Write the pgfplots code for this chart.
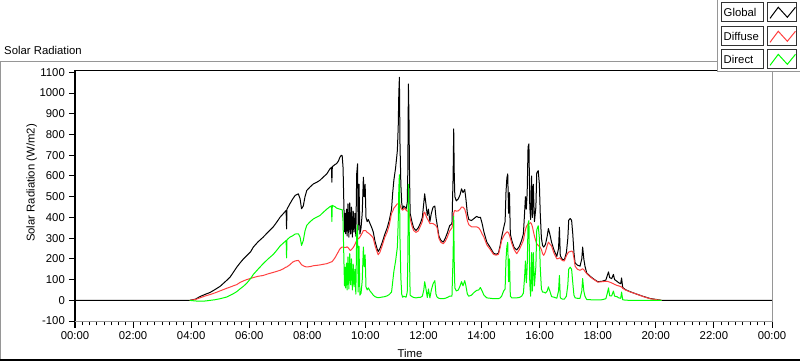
\documentclass[border=0pt]{standalone}
\usepackage{pgfplots}
\pgfplotsset{compat=1.18}
\usepackage{pgfplotstable}
\usepackage{fontspec}
\setmainfont{Liberation Sans}
\definecolor{lvred}{RGB}{255,64,64}
\definecolor{lvgreen}{RGB}{0,255,0}
\definecolor{frgray}{RGB}{150,150,150}

\pgfplotstableread{
t G D R
0.00 0 nan nan
3.95 0 0 0
4.15 6 4 -3
4.30 18 12 -4
4.50 30 22 -3
4.65 38 28 0
4.82 52 36 3
5.00 68 46 8
5.22 96 58 16
5.34 112 64 24
5.45 135 70 32
5.57 160 76 42
5.68 180 86 55
5.80 200 94 68
5.91 215 100 82
6.05 235 106 106
6.14 257 110 125
6.30 282 116 150
6.48 305 120 177
6.65 330 128 200
6.83 355 135 222
6.95 378 140 242
7.06 401 145 262
7.17 418 152 276
7.27 434 161 289
7.285 345 160 205
7.30 440 162 292
7.40 466 172 305
7.50 490 185 312
7.58 506 190 320
7.69 514 193 321
7.75 490 182 305
7.80 442 172 265
7.86 455 167 288
7.92 500 163 335
7.98 530 161 362
8.10 548 163 380
8.21 562 167 393
8.33 570 169 402
8.44 580 171 410
8.55 595 174 425
8.67 610 177 440
8.78 635 183 452
8.83 642 186 456
8.845 570 186 380
8.86 645 188 458
8.95 655 205 452
9.01 660 220 445
9.07 672 235 442
9.12 690 248 440
9.17 700 255 438
9.20 698 257 438
9.23 640 257 380
9.26 450 256 190
9.28 330 255 70
9.30 420 255 160
9.32 321 255 60
9.35 440 257 180
9.37 310 258 50
9.40 466 255 210
9.43 305 250 55
9.46 470 243 225
9.49 320 241 75
9.52 450 245 200
9.55 305 250 50
9.58 430 255 175
9.61 330 262 65
9.64 420 270 150
9.67 310 280 30
9.70 611 290 321
9.73 659 295 364
9.75 340 297 40
9.78 560 300 260
9.81 320 305 25
9.85 350 315 35
9.89 420 325 95
9.93 594 337 257
9.96 500 337 163
9.99 560 337 220
10.02 400 335 65
10.06 380 328 50
10.10 390 325 60
10.16 370 318 45
10.22 350 310 35
10.27 330 300 25
10.33 285 265 18
10.40 250 235 14
10.44 235 220 13
10.50 250 232 14
10.58 280 265 16
10.67 320 305 18
10.75 350 330 22
10.82 385 362 28
10.90 440 420 40
10.94 520 430 90
10.98 580 445 140
11.04 640 455 190
11.10 723 466 257
11.13 840 466 380
11.15 1000 466 540
11.17 1076 470 606
11.19 760 460 300
11.22 560 448 110
11.25 470 440 30
11.28 440 435 15
11.32 455 440 20
11.36 450 445 18
11.40 440 435 15
11.44 470 430 40
11.46 620 430 200
11.48 1044 430 560
11.50 880 425 450
11.52 600 410 190
11.54 420 395 25
11.60 380 360 18
11.66 350 337 14
11.74 337 328 12
11.82 350 335 14
11.90 375 360 15
11.96 400 380 20
12.01 470 420 50
12.04 514 426 90
12.08 470 410 60
12.13 410 394 14
12.17 440 385 55
12.22 380 370 12
12.27 420 372 50
12.33 450 370 80
12.39 455 365 95
12.43 400 360 30
12.47 365 350 15
12.53 310 300 10
12.60 289 280 8
12.68 281 273 8
12.75 300 285 10
12.82 325 305 14
12.90 360 335 20
12.98 370 350 20
13.02 600 380 220
13.04 827 420 405
13.06 600 430 170
13.08 500 434 60
13.13 480 430 45
13.20 490 432 50
13.26 510 440 70
13.31 538 450 90
13.36 520 450 70
13.42 535 440 95
13.46 490 420 70
13.51 420 385 30
13.56 390 365 20
13.65 385 355 25
13.74 395 355 38
13.83 405 355 48
13.90 400 350 50
13.96 401 338 62
14.02 370 320 45
14.08 330 305 25
14.18 281 268 12
14.30 255 245 10
14.41 228 222 8
14.50 222 218 8
14.58 228 222 8
14.64 265 255 12
14.69 305 289 20
14.76 350 310 45
14.81 380 321 55
14.84 520 325 195
14.87 590 330 260
14.90 610 330 280
14.93 420 325 90
14.96 520 315 200
14.99 320 300 20
15.04 289 275 12
15.12 255 245 12
15.21 243 225 12
15.30 260 245 14
15.38 290 270 20
15.44 321 289 35
15.48 420 320 110
15.51 500 340 190
15.54 440 355 85
15.57 520 362 160
15.60 740 369 370
15.63 755 369 385
15.66 450 372 80
15.69 390 375 20
15.72 600 368 230
15.75 400 355 45
15.78 560 335 230
15.82 380 310 70
15.87 450 285 165
15.90 615 273 340
15.95 626 265 360
15.99 560 260 300
16.02 420 257 160
16.06 300 245 55
16.10 265 225 40
16.14 257 217 40
16.20 270 235 35
16.26 310 265 45
16.30 346 281 65
16.35 320 272 45
16.41 280 262 18
16.50 240 225 15
16.59 212 200 10
16.65 250 202 45
16.68 353 205 120
16.71 215 203 12
16.78 198 192 6
16.85 195 190 6
16.92 230 215 20
16.97 300 228 75
17.00 386 233 150
17.05 395 235 160
17.10 386 238 150
17.14 320 235 85
17.18 230 205 25
17.22 180 165 12
17.30 170 150 10
17.39 165 145 10
17.45 200 150 45
17.48 257 152 105
17.52 200 148 45
17.56 165 140 20
17.62 132 129 4
17.75 115 112 3
17.85 104 102 2
18.00 90 88 2
18.15 92 90 3
18.28 98 92 8
18.34 125 92 40
18.37 137 90 60
18.41 110 88 22
18.48 105 84 22
18.54 125 80 45
18.58 100 77 20
18.66 92 72 18
18.72 85 70 12
18.79 80 66 10
18.82 108 65 40
18.86 62 58 3
18.95 52 50 1
19.11 42 41 0
19.34 30 30 0
19.57 19 18 0
19.80 9 8 0
20.03 4 3 0
20.20 0 0 0
24.00 0 nan nan
}\solar

\begin{document}
\fontsize{8.5pt}{10pt}\selectfont
\begin{tikzpicture}
\path[use as bounding box] (0,0) rectangle (600pt,270.75pt);
% outer panel frame
\draw[frgray, line width=0.75pt] (0,224.6pt) -- (537.75pt,224.6pt);
\draw[frgray, line width=0.75pt] (0.4pt,224.6pt) -- (0.4pt,0.5pt);
\draw[black, line width=1.2pt] (0,0.9pt) -- (600pt,0.9pt);
\begin{axis}[
  at={(56.25pt,29.475pt)}, anchor=south west,
  scale only axis, width=522.75pt, height=188.25pt,
  xmin=0, xmax=24, ymin=-103, ymax=1108,
  axis line style={draw=none},
  tick pos=left, tick align=outside,
  xtick={0,2,...,24},
  xticklabels={00:00,02:00,04:00,06:00,08:00,10:00,12:00,14:00,16:00,18:00,20:00,22:00,00:00},
  minor x tick num=7,
  ytick={-100,0,100,...,1100},
  major tick length=4.6pt, minor tick length=2.8pt,
  tick style={black, line width=0.75pt},
  /pgf/number format/assume math mode=true,
  /pgf/number format/set thousands separator={},
  xlabel={Time},
  ylabel={Solar Radiation (W/m2)},
  xlabel style={at={(axis description cs:0.4806,-0.1247)}, anchor=center, inner sep=0pt},
  ylabel style={at={(axis description cs:-0.0621,0.5526)}, anchor=center, inner sep=0pt},
  title={Solar Radiation},
  title style={at={(axis description cs:-0.1019,1.0506)}, anchor=west, inner sep=0pt},
  clip=false,
]
\addplot[black, line width=0.75pt, line join=round] table[x=t, y=G] {\solar};
\addplot[lvred, line width=0.75pt, line join=round] table[x=t, y=D] {\solar};
\addplot[lvgreen, line width=0.75pt, line join=round] table[x=t, y=R] {\solar};
\draw[black, line width=0.75pt] (rel axis cs:0,0) -- (rel axis cs:0,1) -- (rel axis cs:1,1);
\draw[frgray, line width=0.75pt] (rel axis cs:1,1) -- (rel axis cs:1,0) -- (rel axis cs:0,0);
\end{axis}
% legend panel
\fill[white] (537.75pt,216.75pt) rectangle (601pt,272pt);
\draw[frgray, line width=0.75pt] (537.75pt,271pt) -- (537.75pt,216.75pt) -- (600pt,216.75pt);
\foreach \yc/\lab/\col in {261.6/Global/black, 243.6/Diffuse/lvred, 226.3/Direct/lvgreen}{
  \draw[black!80, line width=0.75pt, fill=white] (540.75pt,\yc pt-7.1pt) rectangle (572.25pt,\yc pt+7.1pt);
  \node[anchor=west, inner sep=0pt] at (542.6pt,\yc pt) {\lab};
  \draw[black!80, line width=0.75pt, fill=white] (575.8pt,\yc pt-7.1pt) rectangle (597.5pt,\yc pt+7.1pt);
  \draw[\col, line width=0.75pt] (577.5pt,\yc pt-4.6pt) -- (583.7pt,\yc pt+3.7pt) -- (590.5pt,\yc pt-3.8pt) -- (596.6pt,\yc pt+3.7pt);
}
\end{tikzpicture}
\end{document}
